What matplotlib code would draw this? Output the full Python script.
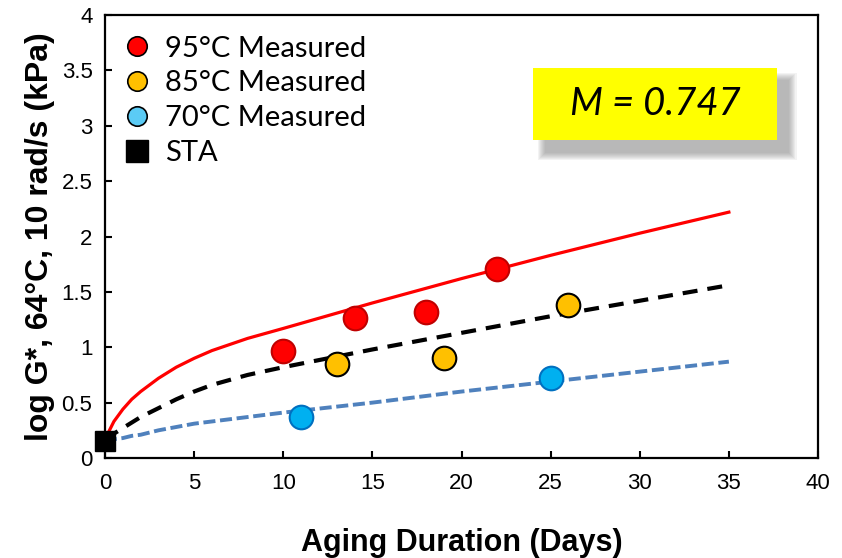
import matplotlib.pyplot as plt
from matplotlib.lines import Line2D
from matplotlib.patches import Rectangle

# measured points
days_95 = [10, 14, 18, 22]
g_95 = [0.97, 1.26, 1.32, 1.71]
days_85 = [13, 19, 26]
g_85 = [0.85, 0.90, 1.38]
days_70 = [11, 25]
g_70 = [0.37, 0.72]
sta_day = [0]
sta_g = [0.15]

# model curves
fit_days = [0, 0.5, 1, 1.5, 2, 3, 4, 5, 6, 8, 10, 15, 20, 25, 30, 35]
fit_95 = [0.17, 0.33, 0.44, 0.53, 0.60, 0.72, 0.82, 0.90, 0.97, 1.08, 1.17, 1.40, 1.62, 1.83, 2.03, 2.22]
fit_85 = [0.17, 0.22, 0.27, 0.32, 0.37, 0.45, 0.53, 0.60, 0.66, 0.75, 0.82, 0.98, 1.13, 1.28, 1.42, 1.56]
fit_70 = [0.15, 0.17, 0.18, 0.20, 0.21, 0.25, 0.28, 0.31, 0.33, 0.37, 0.41, 0.50, 0.60, 0.69, 0.78, 0.87]

m_value = "M = 0.747"

arial = ['Liberation Sans', 'DejaVu Sans']

fig = plt.figure(figsize=(8.42, 5.58), dpi=100)
ax = fig.add_axes([0.1247, 0.1792, 0.8468, 0.7939])

ax.plot(fit_days, fit_95, color='#FF0000', lw=2.3, zorder=2)
ax.plot(fit_days, fit_85, color='black', lw=3, linestyle=(0, (3.6, 2.4)), zorder=2)
ax.plot(fit_days, fit_70, color='#4F81BD', lw=2.8, linestyle=(0, (3.1, 1.2)), zorder=2)

ax.plot(days_95, g_95, 'o', ms=17, mfc='#FF0000', mec='#C00000', mew=1.5, zorder=3)
ax.plot(days_85, g_85, 'o', ms=17, mfc='#FFC000', mec='black', mew=1.5, zorder=3)
ax.plot(days_70, g_70, 'o', ms=17, mfc='#00B0F0', mec='#0070C0', mew=1.5, zorder=3)
ax.plot(sta_day, sta_g, 's', ms=14, mfc='black', mec='black', zorder=4, clip_on=False)

ax.set_xlim(0, 40)
ax.set_ylim(0, 4)
ax.set_xticks(range(0, 41, 5))
ax.set_yticks([0, 0.5, 1, 1.5, 2, 2.5, 3, 3.5, 4])
ax.set_yticklabels(['0', '0.5', '1', '1.5', '2', '2.5', '3', '3.5', '4'])
ax.tick_params(direction='in', length=5, width=1.5, labelsize=16)
ax.tick_params(axis='x', pad=11)
ax.tick_params(axis='y', pad=9)
for lab in ax.get_xticklabels() + ax.get_yticklabels():
    lab.set_family(arial)
for sp in ax.spines.values():
    sp.set_linewidth(1.6)

ax.set_xlabel('Aging Duration (Days)', family=arial, fontsize=22,
              fontweight='bold', labelpad=24)
ax.set_ylabel('log G*, 64°C, 10 rad/s (kPa)', family=arial,
              fontsize=23, fontweight='bold', labelpad=5)

handles = [
    Line2D([], [], ls='none', marker='o', ms=14, mfc='#FF0000', mec='black', mew=1.2),
    Line2D([], [], ls='none', marker='o', ms=14, mfc='#FFC000', mec='black', mew=1.2),
    Line2D([], [], ls='none', marker='o', ms=14, mfc='#5BCBF5', mec='black', mew=1.2),
    Line2D([], [], ls='none', marker='s', ms=16, mfc='black', mec='black'),
]
labels = ['95°C Measured', '85°C Measured', '70°C Measured', 'STA']
ax.legend(handles, labels, loc='upper left', frameon=False,
          prop={'family': ['Lato', 'DejaVu Sans'], 'size': 21},
          handlelength=1.0, handletextpad=0.45, labelspacing=0.3,
          borderaxespad=0.0, bbox_to_anchor=(0.008, 0.98))

# yellow text box with a soft, blurred shadow
box_x, box_y, box_w, box_h = 0.6002, 0.7175, 0.3422, 0.1630
for i in range(8):
    grow = (7 - i) * 0.0025
    ax.add_patch(Rectangle((box_x + 0.017 - grow * 0.6, box_y - 0.028 - grow),
                           box_w + 2 * grow * 0.6, box_h + 2 * grow,
                           transform=ax.transAxes, facecolor='#7F7F7F',
                           edgecolor='none', alpha=0.09, zorder=4, clip_on=False))
ax.add_patch(Rectangle((box_x, box_y), box_w, box_h, transform=ax.transAxes,
                       facecolor='#FFFF00', edgecolor='none', zorder=5))
ax.text(box_x + box_w / 2, box_y + box_h / 2, m_value, transform=ax.transAxes,
        ha='center', va='center', fontsize=27.5, style='italic',
        family=['Lato', 'DejaVu Sans'], zorder=6)

fig.savefig('out.png', dpi=100)
